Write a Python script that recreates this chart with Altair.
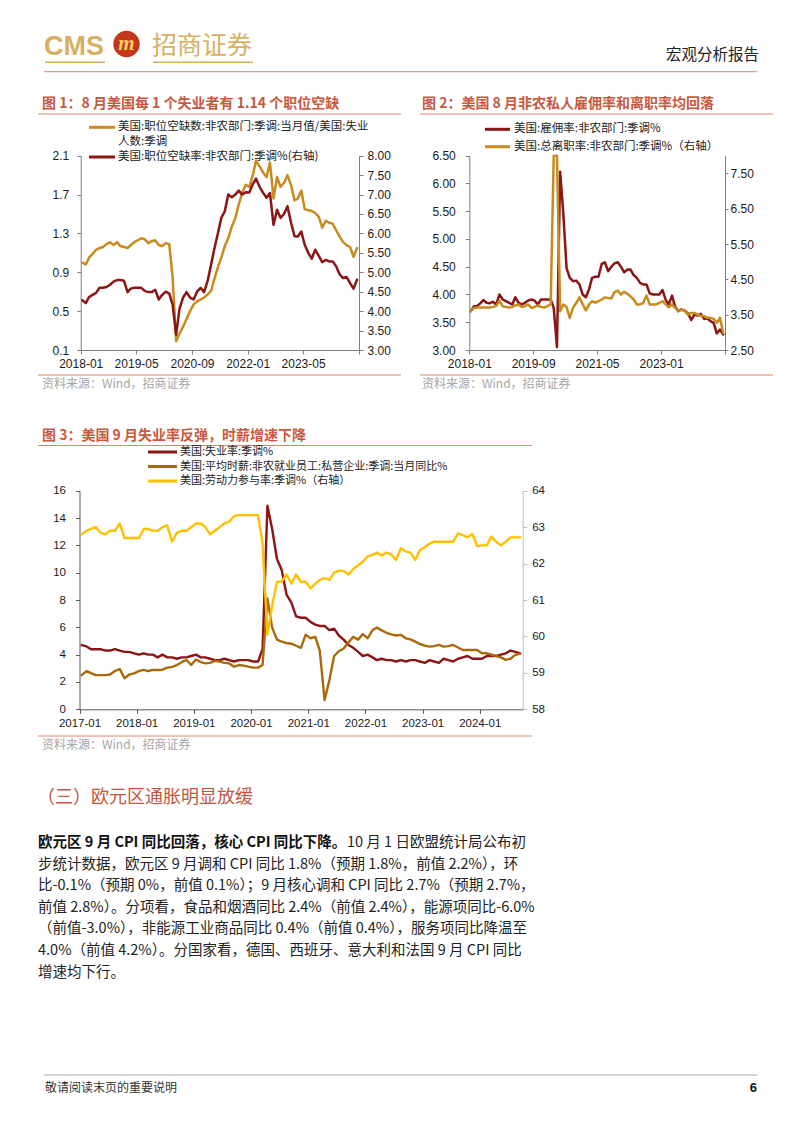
import altair as alt
import pandas as pd

# ---------------- page geometry (page pixels, 8px body margin) ----------------
W, H = 786, 1117
M = 8
CJK = "Noto Sans CJK SC"
LAT = "Liberation Sans"

# ---------------- data ----------------
# Figure 1 (2018-01 .. 2024-08)
c1_start = "2018-01-01"
c1_vu_ratio = [
    1.00, 0.98, 1.05, 1.09, 1.13, 1.15, 1.16, 1.19, 1.21, 1.18, 1.21, 1.17,
    1.16, 1.15, 1.18, 1.21, 1.23, 1.25, 1.24, 1.20, 1.22, 1.23, 1.18, 1.17,
    1.20, 1.19, 0.85, 0.19, 0.27, 0.34, 0.42, 0.50, 0.57, 0.60, 0.62, 0.64,
    0.67, 0.71, 0.83, 0.95, 1.05, 1.17, 1.25, 1.37, 1.46, 1.60, 1.72, 1.80,
    1.78, 1.90, 2.05, 1.99, 1.93, 1.88, 2.03, 1.66, 1.88, 1.78, 1.82, 1.90,
    1.80, 1.64, 1.66, 1.74, 1.55, 1.54, 1.53, 1.51, 1.47, 1.36, 1.43, 1.41,
    1.40, 1.33, 1.27, 1.21, 1.18, 1.16, 1.06, 1.15,
]
c1_openings_rate = [
    4.28, 4.21, 4.36, 4.42, 4.47, 4.60, 4.60, 4.62, 4.68, 4.76, 4.80, 4.80,
    4.78, 4.49, 4.58, 4.60, 4.60, 4.60, 4.52, 4.49, 4.49, 4.55, 4.30, 4.42,
    4.50, 4.45, 4.17, 3.39, 4.07, 4.35, 4.49, 4.35, 4.30, 4.50, 4.60, 4.49,
    4.77, 5.20, 5.60, 6.00, 6.40, 6.57, 7.00, 6.93, 7.00, 7.10, 7.00, 7.06,
    7.05, 7.27, 7.41, 7.20, 7.05, 6.92, 7.04, 6.22, 6.61, 6.40, 6.50, 6.70,
    6.28, 5.93, 5.92, 6.05, 5.71, 5.50, 5.35, 5.58, 5.42, 5.26, 5.32, 5.28,
    5.28, 5.15, 4.95, 4.85, 4.88, 4.72, 4.58, 4.81,
]
c1_xticks = ["2018-01-01", "2019-05-01", "2020-09-01", "2022-01-01", "2023-05-01", "2024-09-01"]
c1_left_ticks = [0.1, 0.5, 0.9, 1.3, 1.7, 2.1]
c1_right_ticks = [3.0, 3.5, 4.0, 4.5, 5.0, 5.5, 6.0, 6.5, 7.0, 7.5, 8.0]

# Figure 2 (2018-01 .. 2024-08)
c2_start = "2018-01-01"
c2_hires_rate = [
    3.70, 3.79, 3.79, 3.84, 3.90, 3.85, 3.84, 3.87, 3.82, 4.00, 3.91, 3.88,
    3.85, 3.82, 3.95, 3.85, 3.82, 3.85, 3.89, 3.91, 3.89, 3.82, 3.91, 3.91,
    3.91, 3.91, 3.76, 3.05, 6.21, 5.44, 4.48, 4.30, 4.24, 4.25, 4.18, 4.00,
    3.95, 4.10, 4.30, 4.32, 4.32, 4.55, 4.58, 4.42, 4.50, 4.56, 4.58, 4.50,
    4.40, 4.45, 4.45, 4.35, 4.30, 4.21, 4.18, 4.18, 4.02, 4.00, 4.00, 4.00,
    4.08, 3.90, 3.82, 3.98, 3.78, 3.70, 3.73, 3.71, 3.66, 3.54, 3.64, 3.62,
    3.65, 3.56, 3.57, 3.52, 3.49, 3.30, 3.37, 3.28,
]
c2_separations_rate = [
    3.60, 3.69, 3.70, 3.70, 3.70, 3.70, 3.70, 3.72, 3.75, 3.90, 3.74, 3.72,
    3.70, 3.72, 3.76, 3.79, 3.72, 3.74, 3.79, 3.69, 3.72, 3.76, 3.72, 3.70,
    3.74, 3.80, 10.5, 8.60, 3.60, 3.79, 3.72, 3.41, 3.70, 3.83, 3.99, 3.80,
    3.62, 3.79, 3.88, 3.84, 3.88, 3.93, 3.99, 3.97, 3.96, 4.14, 4.18, 4.07,
    4.15, 4.09, 4.02, 3.93, 3.79, 3.79, 3.83, 4.04, 3.79, 3.79, 3.79, 3.83,
    3.88, 3.79, 3.71, 3.79, 3.69, 3.60, 3.64, 3.60, 3.50, 3.55, 3.55, 3.50,
    3.46, 3.46, 3.41, 3.41, 3.38, 3.27, 3.41, 2.98,
]
c2_xticks = ["2018-01-01", "2019-09-01", "2021-05-01", "2023-01-01", "2024-09-01"]
c2_left_ticks = [3.0, 3.5, 4.0, 4.5, 5.0, 5.5, 6.0, 6.5]
c2_right_ticks = [2.5, 3.5, 4.5, 5.5, 6.5, 7.5]

# Figure 3 (2017-01 .. 2024-09)
c3_start = "2017-01-01"
c3_unemployment = [
    4.7, 4.6, 4.4, 4.4, 4.4, 4.3, 4.3, 4.4, 4.3, 4.2, 4.2, 4.1,
    4.0, 4.1, 4.0, 4.0, 3.8, 4.0, 3.8, 3.8, 3.7, 3.8, 3.8, 3.9,
    4.0, 3.8, 3.8, 3.7, 3.6, 3.6, 3.7, 3.6, 3.5, 3.6, 3.6, 3.6,
    3.5, 3.5, 4.4, 14.9, 13.2, 11.0, 10.2, 8.4, 7.8, 6.8, 6.7, 6.7,
    6.4, 6.2, 6.1, 6.1, 5.8, 5.9, 5.4, 5.1, 4.7, 4.5, 4.2, 3.9,
    4.0, 3.8, 3.6, 3.7, 3.6, 3.6, 3.5, 3.6, 3.5, 3.6, 3.6, 3.5,
    3.4, 3.6, 3.5, 3.4, 3.7, 3.6, 3.5, 3.7, 3.8, 3.9, 3.7, 3.7,
    3.7, 3.9, 3.9, 3.9, 4.0, 4.1, 4.3, 4.2, 4.1,
]
c3_hourly_earnings_yoy = [
    2.50, 2.80, 2.65, 2.50, 2.50, 2.50, 2.55, 2.80, 2.95, 2.27, 2.55, 2.63,
    2.80, 2.88, 2.80, 2.88, 2.88, 2.90, 3.05, 3.10, 3.24, 3.45, 3.61, 3.24,
    3.65, 3.45, 3.36, 3.40, 3.54, 3.49, 3.40, 3.36, 3.12, 3.24, 3.20, 3.12,
    3.05, 3.05, 3.24, 8.12, 6.00, 5.10, 4.95, 4.85, 4.80, 4.65, 4.50, 5.45,
    5.20, 5.30, 4.30, 0.68, 2.10, 3.90, 4.25, 4.45, 4.90, 5.30, 5.10, 5.50,
    5.20, 5.80, 5.98, 5.78, 5.60, 5.49, 5.40, 5.45, 5.20, 5.12, 4.95, 4.78,
    4.66, 4.59, 4.62, 4.71, 4.59, 4.62, 4.71, 4.52, 4.34, 4.34, 4.34, 4.34,
    4.10, 4.10, 4.00, 3.90, 3.80, 3.62, 3.70, 3.98, 4.08,
]
c3_participation = [
    62.80, 62.90, 62.95, 63.00, 62.85, 62.80, 62.90, 62.90, 63.10, 62.70, 62.70, 62.70,
    62.70, 62.95, 62.95, 62.90, 62.90, 63.00, 63.05, 62.60, 62.85, 62.90, 62.90, 63.00,
    63.10, 63.10, 63.00, 62.80, 62.90, 63.00, 63.10, 63.15, 63.30, 63.33, 63.33, 63.33,
    63.33, 63.33, 62.55, 60.05, 60.85, 61.50, 61.50, 61.70, 61.45, 61.70, 61.50, 61.50,
    61.32, 61.45, 61.55, 61.60, 61.55, 61.75, 61.80, 61.80, 61.70, 61.85, 61.95, 62.05,
    62.20, 62.24, 62.30, 62.22, 62.30, 62.25, 62.10, 62.42, 62.33, 62.30, 62.10, 62.37,
    62.45, 62.55, 62.60, 62.60, 62.60, 62.60, 62.60, 62.83, 62.78, 62.72, 62.81, 62.48,
    62.50, 62.50, 62.74, 62.60, 62.50, 62.60, 62.72, 62.72, 62.72,
]
c3_xticks = ["2017-01-01", "2018-01-01", "2019-01-01", "2020-01-01",
             "2021-01-01", "2022-01-01", "2023-01-01", "2024-01-01"]
c3_left_ticks = [0, 2, 4, 6, 8, 10, 12, 14, 16]
c3_right_ticks = [58, 59, 60, 61, 62, 63, 64]

# ---------------- texts ----------------
HEADER_RIGHT = "宏观分析报告"
TITLE1 = "图 1：8 月美国每 1 个失业者有 1.14 个职位空缺"
TITLE2 = "图 2：美国 8 月非农私人雇佣率和离职率均回落"
TITLE3 = "图 3：美国 9 月失业率反弹，时薪增速下降"
LEG1 = ["美国:职位空缺数:非农部门:季调:当月值/美国:失业", "人数:季调", "美国:职位空缺率:非农部门:季调%(右轴)"]
LEG2 = ["美国:雇佣率:非农部门:季调%", "美国:总离职率:非农部门:季调%（右轴）"]
LEG3 = ["美国:失业率:季调%", "美国:平均时薪:非农就业员工:私营企业:季调:当月同比%", "美国:劳动力参与率:季调%（右轴）"]
SOURCE = "资料来源：Wind，招商证券"
SECTION = "（三）欧元区通胀明显放缓"
PARA_BOLD = "欧元区 9 月 CPI 同比回落，核心 CPI 同比下降。"
PARA_LINES = [
    "10 月 1 日欧盟统计局公布初",
    "步统计数据，欧元区 9 月调和 CPI 同比 1.8%（预期 1.8%，前值 2.2%），环",
    "比-0.1%（预期 0%，前值 0.1%）；9 月核心调和 CPI 同比 2.7%（预期 2.7%，",
    "前值 2.8%）。分项看，食品和烟酒同比 2.4%（前值 2.4%），能源项同比-6.0%",
    "（前值-3.0%），非能源工业商品同比 0.4%（前值 0.4%），服务项同比降温至",
    "4.0%（前值 4.2%）。分国家看，德国、西班牙、意大利和法国 9 月 CPI 同比",
    "增速均下行。",
]
FOOTER = "敬请阅读末页的重要说明"
PAGE_NO = "6"

# ---------------- colours ----------------
RED = "#8C1515"
GOLD = "#C98A1E"
BROWN = "#A9690C"
YELLOW = "#FFC000"
TITLE_C = "#C8593E"
RULE_C = "#D9876E"
LOGO_C = "#D8B062"
AX12 = "#808080"
AX3L = "#595959"
AX3R = "#BFBFBF"


def X(v):
    return v - M


def Y(v):
    return v - M


def ms(s):
    return int(pd.Timestamp(s, tz="UTC").value // 10**6)


def month_ms(start, n):
    d = pd.date_range(start, periods=n, freq="MS", tz="UTC") + pd.Timedelta(days=14)
    return [int(t.value // 10**6) for t in d]


def x_axis(ticks, y_page, color, size, hide_last=False):
    expr = "utcFormat(datum.value, '%Y-%m')"
    if hide_last:
        expr = f"datum.value >= {ms(ticks[-1])} ? '' : " + expr
    return alt.Axis(orient="bottom", offset=Y(y_page) - H, values=[ms(t) for t in ticks],
                    labelExpr=expr, grid=False, domainColor=color, tickColor=color,
                    tickSize=4, labelPadding=4, labelFont=LAT, labelFontSize=size,
                    labelColor="#1a1a1a", labelFlush=False, labelOverlap=False, title=None)


def y_axis(orient, ticks, fmt, x_page, color, size, tick, pad):
    off = -X(x_page) if orient == "left" else X(x_page) - W
    return alt.Axis(orient=orient, offset=off, values=ticks, format=fmt, grid=False,
                    domainColor=color, tickColor=color, tickSize=tick, labelPadding=pad,
                    labelFont=LAT, labelFontSize=size, labelColor="#1a1a1a",
                    labelFlush=False, labelOverlap=False, title=None)


def line_layer(start, values, color, xdom, xr, ydom, yr, xaxis=None, yaxis=None, sw=2.5, clamp=False):
    df = pd.DataFrame({"t": month_ms(start, len(values)), "v": values})
    return alt.Chart(df).mark_line(color=color, strokeWidth=sw, strokeJoin="round", strokeCap="round").encode(
        x=alt.X("t:T", scale=alt.Scale(type="utc", domain=[ms(xdom[0]), ms(xdom[1])],
                                       range=[X(xr[0]), X(xr[1])]), axis=xaxis),
        y=alt.Y("v:Q", scale=alt.Scale(domain=ydom, range=[Y(yr[0]), Y(yr[1])], zero=False,
                                       nice=False, clamp=clamp), axis=yaxis),
    )


ONE = pd.DataFrame({"k": [0]})


def txt(x, y, s, size=12, color="#222222", weight="normal", font=CJK, align="left",
        baseline="middle", style="normal"):
    return alt.Chart(ONE).mark_text(fontSize=size, color=color, fontWeight=weight, font=font,
                                    align=align, baseline=baseline, fontStyle=style).encode(
        x=alt.value(X(x)), y=alt.value(Y(y)), text=alt.value(s))


def hrule(x1, x2, y, color, w=1.0):
    return alt.Chart(ONE).mark_rule(color=color, strokeWidth=w).encode(
        x=alt.value(X(x1)), x2=alt.value(X(x2)), y=alt.value(Y(y)))


layers = []

# ---------------- header ----------------
layers += [
    txt(44, 54.5, "CMS", size=27, color=LOGO_C, weight="bold", font=LAT, baseline="alphabetic"),
    hrule(45, 105, 62.3, LOGO_C, 1.5),
    alt.Chart(ONE).mark_circle(size=700, color="#C4371C", opacity=1).encode(
        x=alt.value(X(126.5)), y=alt.value(Y(44))),
    txt(126.5, 44, "m", size=21, color="#F4CD63", weight="bold", font="Liberation Serif",
        align="center", style="italic"),
    txt(152, 46, "招商证券", size=25, color=LOGO_C),
    hrule(153, 253, 62.3, LOGO_C, 1.5),
    txt(759, 55, HEADER_RIGHT, size=15.5, color="#222222", align="right"),
    hrule(44, 757, 71.7, RULE_C, 1.0),
]

# ---------------- figure titles / rules / sources ----------------
layers += [
    txt(42, 103.5, TITLE1, size=14, color=TITLE_C, weight="bold"),
    hrule(38, 401, 114, RULE_C),
    txt(422, 103.5, TITLE2, size=14, color=TITLE_C, weight="bold"),
    hrule(420, 773, 114, RULE_C),
    hrule(38, 401, 375, RULE_C),
    txt(42, 383.5, SOURCE, size=12, color="#A6A6A6"),
    hrule(420, 773, 375, RULE_C),
    txt(422, 383.5, SOURCE, size=12, color="#A6A6A6"),
    txt(42, 436, TITLE3, size=14, color=TITLE_C, weight="bold"),
    hrule(38, 532, 445.5, RULE_C),
    hrule(38, 532, 736, RULE_C),
    txt(42, 745, SOURCE, size=12, color="#A6A6A6"),
]

# ---------------- legends ----------------
layers += [
    hrule(89, 115, 127.3, GOLD, 3),
    txt(118, 127.3, LEG1[0], size=11.5),
    txt(118, 142.3, LEG1[1], size=11.5),
    hrule(89, 115, 157, RED, 3),
    txt(118, 157, LEG1[2], size=11.5),
    hrule(485, 510, 129.3, RED, 3),
    txt(514, 129.3, LEG2[0], size=11.5),
    hrule(485, 510, 146.7, GOLD, 3),
    txt(514, 146.7, LEG2[1], size=11.5),
    hrule(148, 177, 452, RED, 3),
    txt(180, 452, LEG3[0], size=11),
    hrule(148, 177, 466.5, BROWN, 3),
    txt(180, 466.5, LEG3[1], size=11),
    hrule(148, 177, 481, YELLOW, 3),
    txt(180, 481, LEG3[2], size=11),
]

# ---------------- figure 1 ----------------
c1_xd = ("2018-01-01", "2024-09-01")
c1_xr = (80.7, 359)
c1_yr = (350, 155.7)
layers += [
    line_layer(c1_start, c1_vu_ratio, GOLD, c1_xd, c1_xr, [0.1, 2.1], c1_yr,
               xaxis=x_axis(c1_xticks, 350, AX12, 12, hide_last=True),
               yaxis=y_axis("left", c1_left_ticks, ".1f", 80.7, AX12, 12, 4, 8)),
    line_layer(c1_start, c1_openings_rate, RED, c1_xd, c1_xr, [3, 8], c1_yr,
               yaxis=y_axis("right", c1_right_ticks, ".2f", 359, AX12, 12, 4, 4)),
]

# ---------------- figure 2 ----------------
c2_xd = ("2018-01-01", "2024-09-01")
c2_xr = (469.3, 725)
c2_yr = (350, 155.7)
layers += [
    line_layer(c2_start, c2_hires_rate, RED, c2_xd, c2_xr, [3.0, 6.5], c2_yr,
               xaxis=x_axis(c2_xticks, 350, AX12, 12, hide_last=True),
               yaxis=y_axis("left", c2_left_ticks, ".2f", 469.3, AX12, 12, 4, 10)),
    line_layer(c2_start, c2_separations_rate, GOLD, c2_xd, c2_xr, [2.5, 8.0], c2_yr,
               yaxis=y_axis("right", c2_right_ticks, ".2f", 725, AX12, 12, 3, 2), clamp=True),
]

# ---------------- figure 3 ----------------
c3_xd = ("2017-01-01", "2024-10-01")
c3_xr = (79.5, 522.7)
c3_yr = (709.3, 490.7)
layers += [
    line_layer(c3_start, c3_unemployment, RED, c3_xd, c3_xr, [0, 16], c3_yr,
               xaxis=x_axis(c3_xticks, 709.3, AX3L, 11.5),
               yaxis=y_axis("left", c3_left_ticks, "d", 79.5, AX3L, 11.5, 4, 10), sw=2.4),
    line_layer(c3_start, c3_hourly_earnings_yoy, BROWN, c3_xd, c3_xr, [0, 16], c3_yr, sw=2.4),
    line_layer(c3_start, c3_participation, YELLOW, c3_xd, c3_xr, [58, 64], c3_yr,
               yaxis=y_axis("right", c3_right_ticks, "d", 522.7, AX3R, 11.5, 4, 5), sw=2.4),
]

# ---------------- section text ----------------
PSIZE = 14.5
layers.append(txt(37, 798, SECTION, size=18, color="#C0573F"))
layers.append(txt(38, 843, PARA_BOLD, size=PSIZE, color="#111111", weight="bold"))
layers.append(txt(347, 843, PARA_LINES[0], size=PSIZE, color="#222222"))
for i, line in enumerate(PARA_LINES[1:], start=1):
    layers.append(txt(38, 843 + 21.6 * i, line, size=PSIZE, color="#222222"))

# ---------------- footer ----------------
layers += [
    hrule(44, 757, 1075, "#A6A6A6", 1.0),
    txt(45, 1088, FOOTER, size=12, color="#333333"),
    txt(757, 1088, PAGE_NO, size=13, color="#111111", weight="bold", font=LAT, align="right"),
]

chart = alt.layer(*layers).resolve_scale(x="independent", y="independent").properties(
    width=W, height=H, padding=0, background="white",
    autosize=alt.AutoSizeParams(type="none"),
).configure_view(stroke=None)

chart.save("out.html", embed_options={"renderer": "svg", "actions": False})
